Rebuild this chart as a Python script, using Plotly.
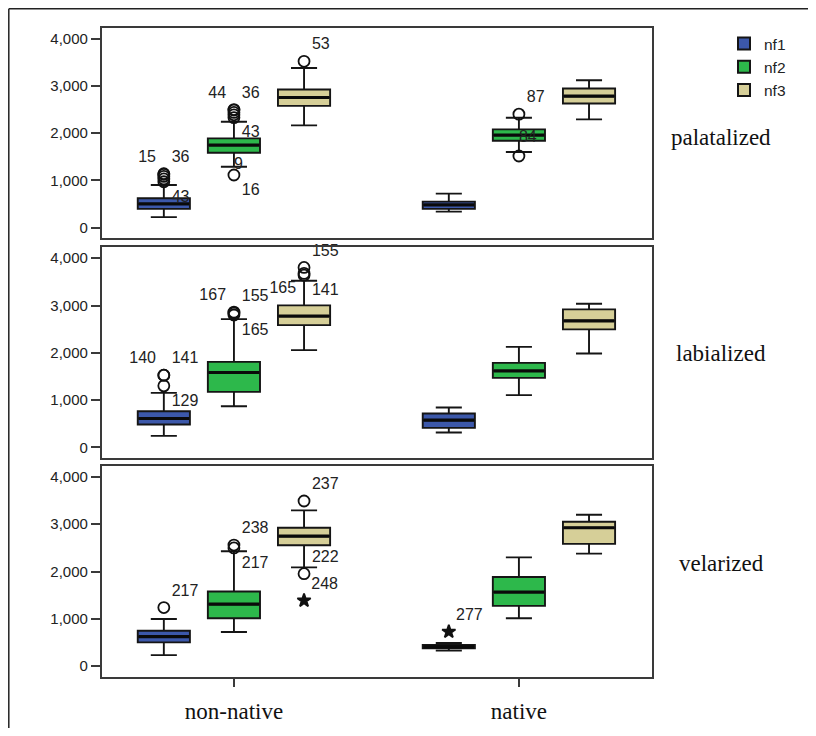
import plotly.graph_objects as go

# ---------------- data ----------------
categories = ["non-native", "native"]
series = ["nf1", "nf2", "nf3"]
panels = ["palatalized", "labialized", "velarized"]

# box statistics per panel, per series: values for [non-native, native]
pal_q1 = {"nf1": [395, 395], "nf2": [1586, 1839], "nf3": [2579, 2630]}
pal_med = {"nf1": [500, 480], "nf2": [1748, 1960], "nf3": [2757, 2784]}
pal_q3 = {"nf1": [621, 550], "nf2": [1890, 2080], "nf3": [2926, 2947]}
pal_lo = {"nf1": [220, 338], "nf2": [1290, 1600], "nf3": [2165, 2292]}
pal_hi = {"nf1": [903, 719], "nf2": [2241, 2326], "nf3": [3383, 3123]}

lab_q1 = {"nf1": [486, 414], "nf2": [1175, 1471], "nf3": [2586, 2495]}
lab_med = {"nf1": [613, 577], "nf2": [1585, 1619], "nf3": [2776, 2677]}
lab_q3 = {"nf1": [767, 719], "nf2": [1810, 1789], "nf3": [3002, 2918]}
lab_lo = {"nf1": [245, 317], "nf2": [873, 1106], "nf3": [2057, 1987]}
lab_hi = {"nf1": [1154, 846], "nf2": [2712, 2127], "nf3": [3522, 3036]}

vel_q1 = {"nf1": [503, 380], "nf2": [1012, 1274], "nf3": [2556, 2585]}
vel_med = {"nf1": [623, 410], "nf2": [1310, 1565], "nf3": [2747, 2925]}
vel_q3 = {"nf1": [750, 450], "nf2": [1579, 1884], "nf3": [2925, 3052]}
vel_lo = {"nf1": [234, 330], "nf2": [722, 1012], "nf3": [2088, 2379]}
vel_hi = {"nf1": [998, 490], "nf2": [2428, 2300], "nf3": [3292, 3201]}

stats = {
    "palatalized": (pal_q1, pal_med, pal_q3, pal_lo, pal_hi),
    "labialized": (lab_q1, lab_med, lab_q3, lab_lo, lab_hi),
    "velarized": (vel_q1, vel_med, vel_q3, vel_lo, vel_hi),
}

# outliers: (panel, series, category, value, kind, case label, label side)
# kind: "o" = outlier circle, "*" = extreme star, "" = label only
outliers = [
    ("palatalized", "nf1", "non-native", 1140, "o", "15", "top left"),
    ("palatalized", "nf1", "non-native", 1130, "o", "36", "top right"),
    ("palatalized", "nf1", "non-native", 1085, "o", "", "top right"),
    ("palatalized", "nf1", "non-native", 1030, "o", "", "top right"),
    ("palatalized", "nf1", "non-native", 970, "o", "43", "bottom right"),
    ("palatalized", "nf2", "non-native", 2500, "o", "44", "top left"),
    ("palatalized", "nf2", "non-native", 2490, "o", "36", "top right"),
    ("palatalized", "nf2", "non-native", 2440, "o", "", "top right"),
    ("palatalized", "nf2", "non-native", 2390, "o", "", "top right"),
    ("palatalized", "nf2", "non-native", 2330, "o", "43", "bottom right"),
    ("palatalized", "nf2", "non-native", 1330, "", "9", "middle right"),
    ("palatalized", "nf2", "non-native", 1114, "o", "16", "bottom right"),
    ("palatalized", "nf3", "non-native", 3524, "o", "53", "top right"),
    ("palatalized", "nf2", "native", 2404, "o", "87", "top right"),
    ("palatalized", "nf2", "native", 1890, "", "84", "middle right"),
    ("palatalized", "nf2", "native", 1516, "o", "", "top right"),
    ("labialized", "nf1", "non-native", 1528, "o", "140", "top left"),
    ("labialized", "nf1", "non-native", 1528, "o", "141", "top right"),
    ("labialized", "nf1", "non-native", 1302, "o", "129", "bottom right"),
    ("labialized", "nf2", "non-native", 2860, "o", "167", "top left"),
    ("labialized", "nf2", "non-native", 2840, "o", "155", "top right"),
    ("labialized", "nf2", "non-native", 2800, "o", "165", "bottom right"),
    ("labialized", "nf3", "non-native", 3805, "o", "155", "top right"),
    ("labialized", "nf3", "non-native", 3679, "o", "165", "bottom left"),
    ("labialized", "nf3", "non-native", 3640, "o", "141", "bottom right"),
    ("velarized", "nf1", "non-native", 1239, "o", "217", "top right"),
    ("velarized", "nf2", "non-native", 2560, "o", "238", "top right"),
    ("velarized", "nf2", "non-native", 2500, "o", "217", "bottom right"),
    ("velarized", "nf3", "non-native", 3490, "o", "237", "top right"),
    ("velarized", "nf3", "non-native", 1954, "o", "222", "top right"),
    ("velarized", "nf3", "non-native", 1387, "*", "248", "top right"),
    ("velarized", "nf1", "native", 729, "*", "277", "top right"),
]

y_ticks = [0, 1000, 2000, 3000, 4000]

# ---------------- style ----------------
colors = {"nf1": "#3C58AA", "nf2": "#2DB84B", "nf3": "#D6CF98"}
W, H = 800, 720      # page adds an 8px body margin -> 816x736 viewport
OFF = 8


def fx(px):
    return (px - OFF) / W


def fy(py):
    return 1 - (py - OFF) / H


x_dom = [fx(101.7), fx(652)]
y_doms = [
    [fy(238), fy(28)],
    [fy(458), fy(247.3)],
    [fy(676.7), fy(466)],
]
yrange = [-222, 4230]
xrange_ = [-0.464, 1.467]
axis_col = "#3a3a3a"
sans = "Liberation Sans, Arial, sans-serif"
serif = "Liberation Serif, Times New Roman, serif"

fig = go.Figure()

for pi, panel in enumerate(panels):
    xa = "x" if pi == 0 else f"x{pi+1}"
    ya = "y" if pi == 0 else f"y{pi+1}"
    q1, med, q3, lo, hi = stats[panel]
    for s in series:
        fig.add_trace(go.Box(
            x=categories, q1=q1[s], median=med[s], q3=q3[s],
            lowerfence=lo[s], upperfence=hi[s],
            name=s, legendgroup=s, showlegend=(pi == 0),
            offsetgroup=s, alignmentgroup="a",
            fillcolor=colors[s], line=dict(color="#151515", width=1.9),
            whiskerwidth=0.5, boxpoints=False,
            xaxis=xa, yaxis=ya, hoverinfo="skip",
        ))
    for s in series:
        # thick SPSS-style median bar
        fig.add_trace(go.Scatter(
            x=categories, y=med[s], mode="markers",
            marker=dict(symbol="line-ew", size=36,
                        line=dict(width=3.2, color="#0a0a0a")),
            offsetgroup=s, alignmentgroup="a",
            showlegend=False, xaxis=xa, yaxis=ya, hoverinfo="skip",
        ))
    for s in series:
        pts = [o for o in outliers if o[0] == panel and o[1] == s]
        sym = []
        size = []
        for o in pts:
            if o[4] == "o":
                sym.append("circle-open"); size.append(11)
            elif o[4] == "*":
                sym.append("star"); size.append(10)
            else:
                sym.append("circle-open"); size.append(0)
        fig.add_trace(go.Scatter(
            x=[o[2] for o in pts], y=[o[3] for o in pts],
            mode="markers+text", text=[o[5] for o in pts],
            textposition=[o[6] for o in pts],
            textfont=dict(family=sans, size=16, color="#222222"),
            marker=dict(symbol=sym, size=size, color="#111111", opacity=1,
                        line=dict(width=1.8, color="#111111")),
            offsetgroup=s, alignmentgroup="a",
            showlegend=False, xaxis=xa, yaxis=ya, hoverinfo="skip",
            cliponaxis=False,
        ))

layout = dict(
    width=W, height=H,
    margin=dict(l=0, r=0, t=0, b=0),
    paper_bgcolor="white", plot_bgcolor="white",
    boxmode="group", boxgap=0.262, boxgroupgap=0.256,
    scattermode="group", scattergap=0.262,
    font=dict(family=sans, color="#222222"),
    legend=dict(
        x=fx(724), y=fy(27), xanchor="left", yanchor="top",
        font=dict(family=sans, size=15.5, color="#222222"),
        bgcolor="rgba(0,0,0,0)", tracegroupgap=0, itemsizing="constant",
    ),
)
for pi in range(3):
    key = "" if pi == 0 else str(pi + 1)
    bottom = pi == 2
    layout["xaxis" + key] = dict(
        domain=x_dom, type="category", categoryorder="array",
        categoryarray=categories, range=xrange_,
        showline=True, mirror=True, linecolor=axis_col, linewidth=1.6,
        showgrid=False, zeroline=False,
        ticks="outside" if bottom else "", ticklen=8, tickwidth=1.6,
        tickcolor=axis_col, showticklabels=bottom,
        tickfont=dict(family=serif, size=23, color="#111111"),
        ticklabelstandoff=5,
        anchor="y" if pi == 0 else f"y{pi+1}",
        matches=None if pi == 0 else "x",
    )
    layout["yaxis" + key] = dict(
        domain=y_doms[pi], range=yrange, tickvals=y_ticks, tickformat=",d",
        showline=True, mirror=True, linecolor=axis_col, linewidth=1.6,
        showgrid=False, zeroline=False,
        ticks="outside", ticklen=9, tickwidth=1.6, tickcolor=axis_col,
        tickfont=dict(family=sans, size=15, color="#222222"),
        anchor="x" if pi == 0 else f"x{pi+1}",
    )
fig.update_layout(**layout)

# panel row labels
label_y = [137, 353, 563]
for name, py in zip(panels, label_y):
    fig.add_annotation(
        text=name, x=fx(721), y=fy(py), xref="paper", yref="paper",
        showarrow=False, xanchor="center", yanchor="middle",
        font=dict(family=serif, size=23, color="#111111"),
    )

# outer frame (left and top edges)
fig.add_shape(type="line", xref="paper", yref="paper",
              x0=0.001, x1=0.001, y0=0, y1=0.999,
              line=dict(color="#222222", width=1.5))
fig.add_shape(type="line", xref="paper", yref="paper",
              x0=0.001, x1=1, y0=0.999, y1=0.999,
              line=dict(color="#222222", width=1.5))

fig.write_html("out.html")
